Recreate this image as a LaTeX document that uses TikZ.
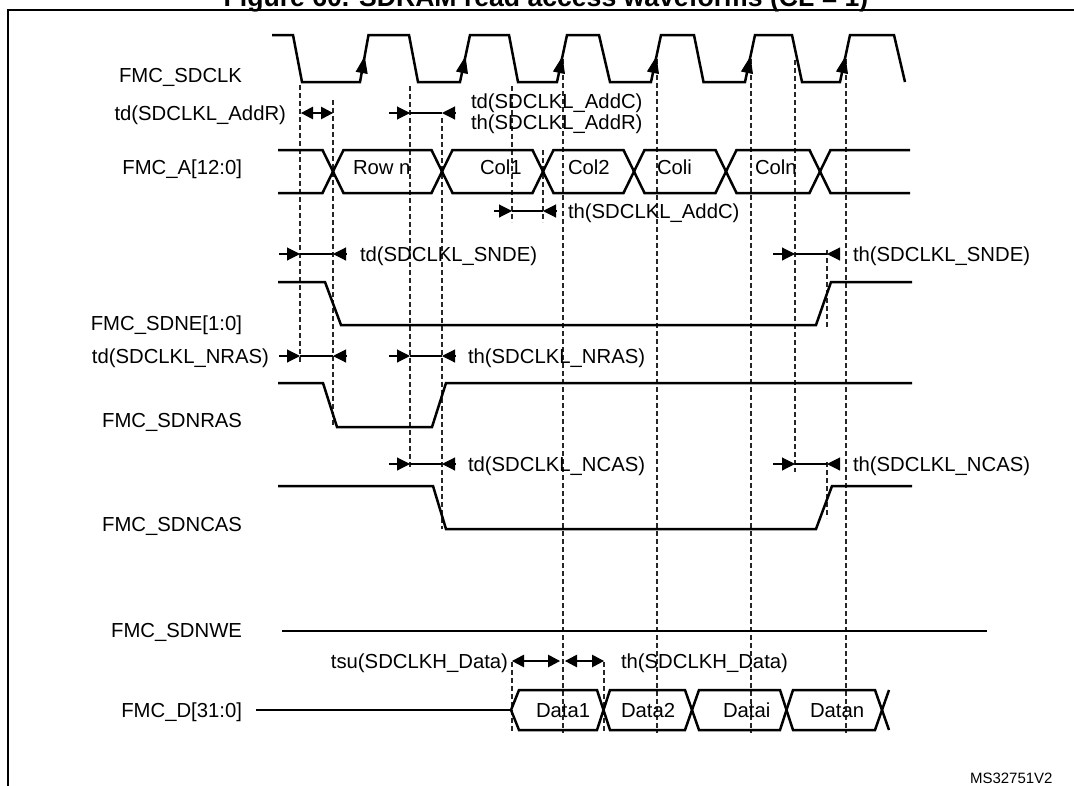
\documentclass[tikz,border=0pt]{standalone}
\usepackage{fontspec}
\setmainfont{Liberation Sans}
\usetikzlibrary{arrows.meta,calc}
\newcommand\lblfont{\fontsize{20.3}{24}\selectfont}
\begin{document}
\begin{tikzpicture}[x=1pt,y=-1pt,
  every node/.style={inner sep=0pt, outer sep=0pt, font=\lblfont},
  sig/.style={line width=2.5pt, line join=miter, line cap=butt},
  guide/.style={line width=1.1pt, dash pattern=on 5pt off 3pt, black!85},
  tline/.style={line width=1.1pt},
  tarr/.style={line width=1.1pt, -{Triangle[length=13pt,width=13pt]}},
  darr/.style={line width=1.1pt, {Triangle[length=12pt,width=12.5pt]}-{Triangle[length=12pt,width=12.5pt]}},
  carr/.style={line width=1pt, -{Triangle[length=17pt,width=12pt]}},
]
\useasboundingbox (0,0) rectangle (1074,785);
% frame and (cropped) title
\draw[line width=2.5pt] (8,800) -- (8,10) -- (1090,10);
\node[anchor=base, font=\fontsize{26.6}{30}\selectfont\bfseries] (title) at (546,6.5) {Figure 60. SDRAM read access waveforms (CL = 1)};

% signal names
\node[anchor=base east] (lclk) at (242,82.5) {FMC\_SDCLK};
\node[anchor=base east] (la) at (242,174) {FMC\_A[12:0]};
\node[anchor=base east] (lne) at (242,330) {FMC\_SDNE[1:0]};
\node[anchor=base east] (lras) at (242,427) {FMC\_SDNRAS};
\node[anchor=base east] (lcas) at (242,531) {FMC\_SDNCAS};
\node[anchor=base east] (lwe) at (242,637) {FMC\_SDNWE};
\node[anchor=base east] (ld) at (242,717) {FMC\_D[31:0]};

% dashed guides
\foreach \x/\a/\b in {300/85/362, 333/100/427, 410/86/470, 442/118/529, 512/86/222, 512/662/733, 543/150/222, 563/59/733, 604/662/733, 657/59/733, 751/59/733, 795/60/472, 827/250/328, 827/462/518, 846/59/733}
  \draw[guide] (\x,\a) -- (\x,\b);

% clock
\draw[sig] (272,35) -- (293,35) -- (302,82) -- (360,82) -- (368.5,35) -- (409,35) -- (418,82) -- (460,82) -- (470,35) -- (509,35) -- (518,82) -- (557,82) -- (567,35) -- (599,35) -- (610,82) -- (651,82) -- (661,35) -- (694,35) -- (703.5,82) -- (745,82) -- (755,35) -- (792,35) -- (802,82) -- (840,82) -- (850,35) -- (894,35) -- (905,82);
\foreach \b/\t in {360/368.5, 460/470, 557/567, 651/661, 745/755, 840/850}
  \draw[carr] ($(\b,82)!0.1!(\t,35)$) -- ($(\b,82)!0.55!(\t,35)$);

% address bus
\draw[sig] (278,150) -- (322.5,150) -- (343.5,193) -- (431.5,193) -- (452.5,150) -- (532.5,150) -- (553.5,193) -- (623.5,193) -- (644.5,150) -- (715.5,150) -- (736.5,193) -- (809.5,193) -- (830.5,150) -- (910,150);
\draw[sig] (278,193) -- (322.5,193) -- (343.5,150) -- (431.5,150) -- (452.5,193) -- (532.5,193) -- (553.5,150) -- (623.5,150) -- (644.5,193) -- (715.5,193) -- (736.5,150) -- (809.5,150) -- (830.5,193) -- (910,193);
\node[anchor=base west] (rown) at (353,174) {Row n};
\node[anchor=base west] (col1) at (480,174) {Col1};
\node[anchor=base west] (col2) at (568,174) {Col2};
\node[anchor=base west] (coli) at (657,174) {Coli};
\node[anchor=base west] (coln) at (755,174) {Coln};

% control signals
\draw[sig] (278,282) -- (325,282) -- (341,325) -- (816,325) -- (831,282) -- (912,282);
\draw[sig] (278,383) -- (323,383) -- (337,427) -- (432,427) -- (446,383) -- (912,383);
\draw[sig] (278,486) -- (433,486) -- (446,529) -- (816,529) -- (832,486) -- (912,486);
\draw[sig] (282,631) -- (987,631);

% data bus
\draw[sig] (256,710) -- (511,710);
\draw[sig] (511,710) -- (519,690) -- (597,690) -- (610,730) -- (685,730) -- (699,690) -- (780,690) -- (793,730) -- (875,730) -- (889,690);
\draw[sig] (511,710) -- (519,730) -- (597,730) -- (610,690) -- (685,690) -- (699,730) -- (780,730) -- (793,690) -- (875,690) -- (889,730);
\node[anchor=base west] (d1) at (536,717) {Data1};
\node[anchor=base west] (d2) at (621,717) {Data2};
\node[anchor=base west] (di) at (723,717) {Datai};
\node[anchor=base west] (dn) at (810,717) {Datan};

% timing: AddR / AddC
\draw[darr] (301,113) -- (333,113);
\node[anchor=base east] (taddr) at (286,120) {td(SDCLKL\_AddR)};
\draw[tarr] (389,113) -- (410,113);
\draw[tline] (410,113) -- (442,113);
\draw[tarr] (456,113) -- (442,113);
\node[anchor=base west] (taddc) at (471,108) {td(SDCLKL\_AddC)};
\node[anchor=base west] (thaddr) at (471,129) {th(SDCLKL\_AddR)};
\draw[tarr] (494,211) -- (512,211);
\draw[tline] (512,211) -- (543,211);
\draw[tarr] (557,211) -- (543,211);
\node[anchor=base west] (thaddc) at (568,218) {th(SDCLKL\_AddC)};

% SNDE
\draw[tarr] (279,254) -- (300,254);
\draw[tline] (300,254) -- (333,254);
\draw[tarr] (346,254) -- (333,254);
\node[anchor=base west] (tdsnde) at (360,261) {td(SDCLKL\_SNDE)};
\draw[tarr] (773,254) -- (795,254);
\draw[tline] (795,254) -- (827,254);
\draw[tarr] (839,254) -- (827,254);
\node[anchor=base west] (thsnde) at (853,261) {th(SDCLKL\_SNDE)};

% NRAS
\draw[tarr] (279,356) -- (300,356);
\draw[tline] (300,356) -- (333,356);
\draw[tarr] (346,356) -- (333,356);
\node[anchor=base east] (tdnras) at (269,363) {td(SDCLKL\_NRAS)};
\draw[tarr] (389,356) -- (410,356);
\draw[tline] (410,356) -- (442,356);
\draw[tarr] (456,356) -- (442,356);
\node[anchor=base west] (thnras) at (468,363) {th(SDCLKL\_NRAS)};

% NCAS
\draw[tarr] (389,464) -- (410,464);
\draw[tline] (410,464) -- (442,464);
\draw[tarr] (456,464) -- (442,464);
\node[anchor=base west] (tdncas) at (468,471) {td(SDCLKL\_NCAS)};
\draw[tarr] (773,464) -- (795,464);
\draw[tline] (795,464) -- (827,464);
\draw[tarr] (839,464) -- (827,464);
\node[anchor=base west] (thncas) at (853,471) {th(SDCLKL\_NCAS)};

% Data setup / hold
\draw[darr] (512,661) -- (560,661);
\draw[darr] (565,661) -- (604,661);
\node[anchor=base east] (tsud) at (508,668) {tsu(SDCLKH\_Data)};
\node[anchor=base west] (thd) at (621,668) {th(SDCLKH\_Data)};

\node[anchor=base west, font=\fontsize{15}{18}\selectfont] (ref) at (970,783) {MS32751V2};
\end{tikzpicture}
\end{document}
